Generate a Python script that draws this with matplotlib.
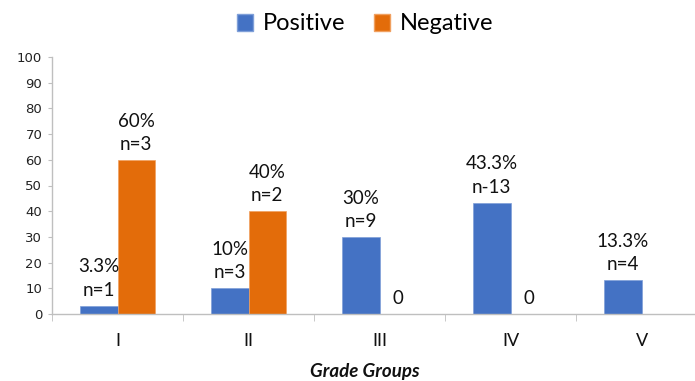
import matplotlib
matplotlib.use("Agg")
import matplotlib.pyplot as plt
from matplotlib.patches import Patch
import numpy as np

categories = ["I", "II", "III", "IV", "V"]
positive = [3.3, 10, 30, 43.3, 13.3]
negative = [60, 40, 0, 0, 0]
positive_labels = ["3.3%\nn=1", "10%\nn=3", "30%\nn=9", "43.3%\nn-13", "13.3%\nn=4"]
negative_labels = ["60%\nn=3", "40%\nn=2", "0", "0", ""]
y_ticks = [0, 10, 20, 30, 40, 50, 60, 70, 80, 90, 100]

BLUE = "#4472C4"
ORANGE = "#E36C0A"
GRID = "#BFBFBF"
FONT = "Lato"

fig = plt.figure(figsize=(6.95, 3.81), dpi=100)
ax = fig.add_axes([52 / 695, 67 / 381, 655 / 695, 257 / 381])

x = np.arange(len(categories))
w = 0.286
b1 = ax.bar(x - w / 2, positive, width=w, color=BLUE, edgecolor="#7F9FD8", linewidth=0.5)
b2 = ax.bar(x + w / 2, negative, width=w, color=ORANGE, edgecolor="#F0A060", linewidth=0.5)

for bars, labels in ((b1, positive_labels), (b2, negative_labels)):
    for rect, lab in zip(bars, labels):
        if not lab:
            continue
        ax.annotate(lab, (rect.get_x() + rect.get_width() / 2, rect.get_height()),
                    xytext=(0, 5), textcoords="offset points",
                    ha="center", va="bottom", fontsize=13.5, family=FONT,
                    linespacing=1.45, color="#111111")

ax.set_xlim(-0.5, 4.5)
ax.set_ylim(0, 100)
ax.set_yticks(y_ticks)
ax.set_yticklabels([str(v) for v in y_ticks], fontsize=9.5, color="#222222")
ax.tick_params(axis="y", length=3, color=GRID, pad=4)

ax.set_xticks(x)
ax.set_xticklabels(categories, fontsize=13, family=FONT, color="#111111")
ax.set_xticks(np.arange(-0.5, 5.0, 1.0), minor=True)
ax.tick_params(axis="x", which="major", length=0, pad=14)
ax.tick_params(axis="x", which="minor", length=5, color=GRID)

for s in ("top", "right"):
    ax.spines[s].set_visible(False)
for s in ("left", "bottom"):
    ax.spines[s].set_color(GRID)
    ax.spines[s].set_linewidth(1.0)

ax.set_xlabel("Grade Groups", fontsize=13.5, family=FONT, fontweight="bold",
              fontstyle="italic", color="#111111")
ax.xaxis.set_label_coords((365 - 52) / 655, -0.19)

handles = [Patch(facecolor=BLUE, edgecolor="#7F9FD8"), Patch(facecolor=ORANGE, edgecolor="#F0A060")]
fig.legend(handles, ["Positive", "Negative"], loc="center", ncol=2,
           bbox_to_anchor=(365 / 695, 1 - 24 / 381), frameon=False,
           prop={"family": FONT, "size": 17}, handlelength=0.7, handleheight=0.7,
           handletextpad=0.4, columnspacing=1.2)

fig.savefig("out.png", dpi=100)
